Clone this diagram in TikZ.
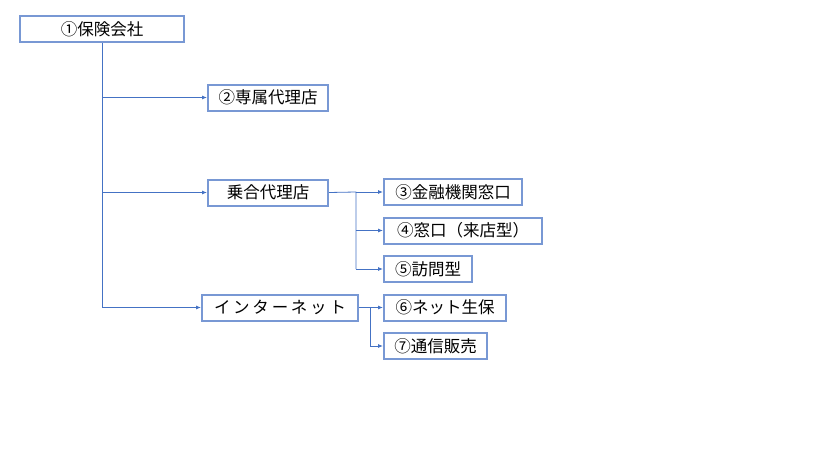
\documentclass[tikz,border=0pt]{standalone}
\usepackage{fontspec}
\setmainfont{Noto Sans CJK JP}
\usepackage{tikz}
\usetikzlibrary{arrows.meta}
\definecolor{boxblue}{RGB}{120,152,212}
\definecolor{lineblue}{RGB}{68,114,196}
\tikzset{
  orgbox/.style={draw=boxblue, line width=2pt, fill=white, minimum height=26pt,
    inner sep=0pt, font=\fontsize{16.5}{19}\selectfont},
  link/.style={draw=lineblue, line width=0.8pt},
  linkarr/.style={link, -{Latex[length=5pt,width=4pt]}}
}
\begin{document}
\begin{tikzpicture}[x=1pt,y=-1pt]
          \useasboundingbox (0,0) rectangle (819,460);
          \node[orgbox, minimum width=164pt] (hoken) at (102,29.5) {①保険会社};
          \node[orgbox, minimum width=120pt] (senzoku) at (268,97.5) {②専属代理店};
          \node[orgbox, minimum width=120pt] (noriai) at (268,192.5) {乗合代理店};
          \node[orgbox, minimum width=156pt] (net) at (280,307.5) {イ\,ン\,タ\,ー\,ネ\,ッ\,ト};
          \node[orgbox, minimum width=138pt, anchor=west] (kinyu) at (383,192) {③金融機関窓口};
          \node[orgbox, minimum width=158pt, anchor=west] (madoguchi) at (383,230.5) {④窓口（来店型）};
          \node[orgbox, minimum width=88pt, anchor=west] (homon) at (383,269) {⑤訪問型};
          \node[orgbox, minimum width=122pt, anchor=west] (netsei) at (383,307.5) {⑥ネット生保};
          \node[orgbox, minimum width=103pt, anchor=west] (tsushin) at (383,346) {⑦通信販売};
          % trunk from the insurer
          \draw[link] (hoken.south) -- (hoken.south |- net.west);
          \draw[linkarr] (hoken.south |- senzoku.west) -- (senzoku.west);
          \draw[linkarr] (hoken.south |- noriai.west) -- (noriai.west);
          \draw[linkarr] (hoken.south |- net.west) -- (net.west);
          % agency branches
          \coordinate (nb) at (356,192);
          \draw[link] (noriai.east) -- (nb) -- (nb |- homon.west);
          \draw[linkarr] (nb) -- (kinyu.west);
          \draw[linkarr] (nb |- madoguchi.west) -- (madoguchi.west);
          \draw[linkarr] (nb |- homon.west) -- (homon.west);
          % internet branches
          \coordinate (ib) at (370,307.5);
          \draw[link] (net.east) -- (ib) -- (ib |- tsushin.west);
          \draw[linkarr] (ib) -- (netsei.west);
          \draw[linkarr] (ib |- tsushin.west) -- (tsushin.west);
        \end{tikzpicture}
\end{document}
